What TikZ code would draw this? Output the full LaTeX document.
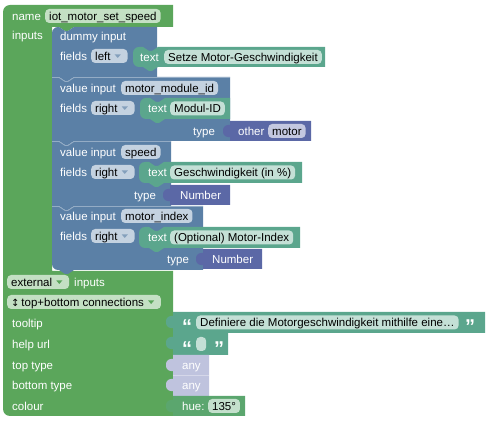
\documentclass[tikz,border=0pt]{standalone}
\usepackage{fontspec}
\setmainfont{Liberation Sans}
\newfontfamily\symfnt{DejaVu Sans}
\usetikzlibrary{calc}
\definecolor{bgreen}{RGB}{91,166,91}
\definecolor{bblue}{RGB}{91,128,166}
\definecolor{bteal}{RGB}{91,166,141}
\definecolor{bpurple}{RGB}{91,104,166}
\definecolor{bhue}{RGB}{91,166,110}
\definecolor{bany}{RGB}{191,195,222}
\definecolor{fgreen}{RGB}{196,224,196}
\definecolor{fblue}{RGB}{196,210,224}
\definecolor{fteal}{RGB}{196,224,214}
\definecolor{fpurple}{RGB}{196,200,224}
\definecolor{fhue}{RGB}{196,224,204}
\newcommand\bfnt{\fontsize{11.5}{13}\selectfont}
\newcommand\ddarr[2]{\fill[#2] ($(#1.east)+(-13,-1.5)$) -- ++(6,0) -- ++(-3,3.5) -- cycle;}
% value block with output tab: colour, L, T, R, B
\newcommand\valblk[5]{\fill[#1] (#2,#3) -- (#4,#3) -- (#4,#5) -- (#2,#5) -- (#2,{#3+16}) .. controls ({#2-1},{#3+16}) and ({#2-7},{#3+17}) .. ({#2-7},{#3+10}) .. controls ({#2-7},{#3+3}) and ({#2-1},{#3+4}) .. (#2,{#3+4}) -- cycle;}
% statement block (text field): colour, L, T, R, B
\newcommand\stblk[5]{\fill[#1] (#2,{#3+6}) arc[start angle=180,end angle=270,radius=6] -- ({#2+10},#3) -- ({#2+16},{#3+4}) -- ({#2+19},{#3+4}) -- ({#2+25},#3) -- (#4,#3) -- (#4,#5) -- ({#2+25},#5) -- ({#2+19},{#5+4}) -- ({#2+16},{#5+4}) -- ({#2+10},#5) -- ({#2+6},#5) arc[start angle=90,end angle=180,radius=6] -- cycle;}
\tikzset{
  lbl/.style={anchor=west, inner sep=0pt, text=white, font=\bfnt, text height=8.2pt, text depth=0pt},
  qt/.style={anchor=base west, inner sep=0pt, text=white, font=\fontsize{20}{20}\selectfont\bfseries},
  fld/.style={anchor=west, inner xsep=4pt, inner ysep=0pt, minimum height=14pt, rounded corners=4pt, text=black, font=\bfnt, text height=8.2pt, text depth=0pt},
  hl/.style={draw=white, draw opacity=0.35, line width=0.8pt},
}
\begin{document}
\begin{tikzpicture}[x=1pt,y=-1pt]
\useasboundingbox (0,0) rectangle (491,422);
% main green block
\fill[bgreen] (3,12) arc[start angle=180,end angle=270,radius=7] -- (173,5) -- (173,27) -- (74,27) -- (68,31) -- (65,31) -- (59,27) -- (52,27) -- (52,271) -- (173,271) -- (173,416) -- (10,416) arc[start angle=90,end angle=180,radius=7] -- cycle;
% blue input blocks
\fill[bblue] (52,33) arc[start angle=180,end angle=270,radius=6] -- (59,27) -- (65,31) -- (68,31) -- (74,27) -- (157,27) -- (157,77) -- (74,77) -- (68,81) -- (65,81) -- (59,77) -- (52,77) -- cycle;
\fill[bblue] (52,77) -- (59,77) -- (65,81) -- (68,81) -- (74,77) -- (230,77) -- (230,141) -- (74,141) -- (68,145) -- (65,145) -- (59,141) -- (52,141) -- cycle;
\fill[bblue] (52,141) -- (59,141) -- (65,145) -- (68,145) -- (74,141) -- (171,141) -- (171,206) -- (74,206) -- (68,210) -- (65,210) -- (59,206) -- (52,206) -- cycle;
\fill[bblue] (52,206) -- (59,206) -- (65,210) -- (68,210) -- (74,206) -- (203,206) -- (203,270) -- (74,270) -- (68,274) -- (65,274) -- (59,270) -- (58,270) arc[start angle=90,end angle=180,radius=6] -- cycle;
\draw[hl] (52,77.5) -- (59,77.5) -- (65,81.5) -- (68,81.5) -- (74,77.5) -- (230,77.5);
\draw[hl] (52,141.5) -- (59,141.5) -- (65,145.5) -- (68,145.5) -- (74,141.5) -- (171,141.5);
\draw[hl] (52,206.5) -- (59,206.5) -- (65,210.5) -- (68,210.5) -- (74,206.5) -- (203,206.5);
% text (teal) statement blocks
\stblk{bteal}{133}{47}{325}{67}
\stblk{bteal}{140}{98}{230}{119}
\stblk{bteal}{139}{162}{302}{183}
\stblk{bteal}{139}{227}{300}{248}
% type (purple) blocks
\valblk{bpurple}{230}{121}{311}{141}
\valblk{bpurple}{170}{185}{230}{205}
\valblk{bpurple}{203}{249}{262}{269}
% lower value blocks
\valblk{bteal}{173}{312}{485}{333}
\valblk{bteal}{173}{333}{228}{355}
\valblk{bany}{173}{355}{209}{375}
\valblk{bany}{173}{375}{209}{396}
\valblk{bhue}{173}{396}{245}{416}
\draw[hl] (173,375.5) -- (209,375.5);
% ---- texts: main block
\node[lbl] (lname) at (12,16) {name};
\node[fld, fill=fgreen] (fname) at (45,16) {iot\_motor\_set\_speed};
\node[lbl] (linputs) at (12,35) {inputs};
% dummy input
\node[lbl] (ldummy) at (60,36) {dummy input};
\node[lbl] (lfields1) at (60,56) {fields};
\node[fld, fill=fblue] (dd1) at (91,56) {left\kern13pt};
\ddarr{dd1}{bblue!75}
\node[lbl] (ltext1) at (140,57) {text};
\node[fld, fill=fteal] (ftext1) at (164,57) {Setze Motor-Geschwindigkeit};
% value input 1
\node[lbl] (lval1) at (60,88) {value input};
\node[fld, fill=fblue] (fval1) at (121,88) {motor\_module\_id};
\node[lbl] (lfields2) at (60,108) {fields};
\node[fld, fill=fblue] (dd2) at (91,108) {right\kern13pt};
\ddarr{dd2}{bblue!75}
\node[lbl] (ltext2) at (148,108.5) {text};
\node[fld, fill=fteal] (ftext2) at (170,108.5) {Modul-ID};
\node[lbl] (ltype1) at (193,131) {type};
\node[lbl] (lother) at (238,131) {other};
\node[fld, fill=fpurple] (fother) at (268,131) {motor};
% value input 2
\node[lbl] (lval2) at (60,152) {value input};
\node[fld, fill=fblue] (fval2) at (121,152) {speed};
\node[lbl] (lfields3) at (60,172) {fields};
\node[fld, fill=fblue] (dd3) at (91,172) {right\kern13pt};
\ddarr{dd3}{bblue!75}
\node[lbl] (ltext3) at (148,172.5) {text};
\node[fld, fill=fteal] (ftext3) at (170,172.5) {Geschwindigkeit (in \%)};
\node[lbl] (ltype2) at (134,195) {type};
\node[lbl] (lnum1) at (180,195) {Number};
% value input 3
\node[lbl] (lval3) at (60,216) {value input};
\node[fld, fill=fblue] (fval3) at (121,216) {motor\_index};
\node[lbl] (lfields4) at (60,236) {fields};
\node[fld, fill=fblue] (dd4) at (91,236) {right\kern13pt};
\ddarr{dd4}{bblue!75}
\node[lbl] (ltext4) at (148,237.5) {text};
\node[fld, fill=fteal] (ftext4) at (170,237.5) {(Optional) Motor-Index};
\node[lbl] (ltype3) at (167,259) {type};
\node[lbl] (lnum2) at (212,259) {Number};
% lower part
\node[fld, fill=fgreen] (ddext) at (7,282) {external\kern13pt};
\ddarr{ddext}{bgreen}
\node[lbl] (linputs2) at (74,282) {inputs};
\node[fld, fill=fgreen] (ddconn) at (7,302) {{\symfnt\fontsize{10}{12}\selectfont ↕}\,top+bottom connections\kern13pt};
\ddarr{ddconn}{bgreen}
\node[lbl] (ltooltip) at (12,323) {tooltip};
\node[qt] (q1) at (182,334) {“};
\node[fld, fill=fteal] (ftooltip) at (196,322.5) {Definiere die Motorgeschwindigkeit mithilfe eine…};
\node[qt] (q2) at (465,334) {”};
\node[lbl] (lhelp) at (12,344) {help url};
\node[qt] (q3) at (182,356) {“};
\node[fld, fill=fteal, inner xsep=0pt, minimum width=10pt] (fhelp) at (196,344) {};
\node[qt] (q4) at (214,356) {”};
\node[lbl] (ltop) at (12,365) {top type};
\node[lbl] (lany1) at (182,365) {any};
\node[lbl] (lbottom) at (12,385) {bottom type};
\node[lbl] (lany2) at (182,385.5) {any};
\node[lbl] (lcolour) at (12,406) {colour};
\node[lbl] (lhue) at (182,406) {hue:};
\node[fld, fill=fhue] (fhuev) at (208,406) {135°};
\end{tikzpicture}
\end{document}
